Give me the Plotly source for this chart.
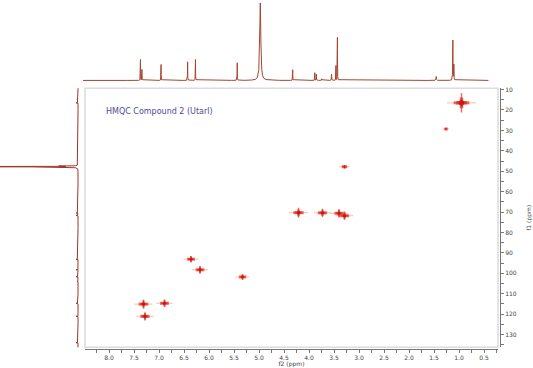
import numpy as np
import plotly.graph_objects as go

# ---------------- data ----------------
# 1H projection (top): peak positions (ppm), relative heights, half widths (ppm)
h_ppm = [7.31, 7.28, 6.89, 6.35, 6.19, 5.34, 4.87, 4.21, 3.76, 3.73, 3.62, 3.42, 3.33, 3.30, 1.29, 0.95, 0.93]
h_int = [27, 14, 20.5, 24, 27, 22.7, 101, 13.7, 9.9, 8, 2, 8, 19, 55.5, 5, 51.7, 20]
h_hw = [0.002, 0.002, 0.002, 0.002, 0.002, 0.002, 0.012, 0.002, 0.002, 0.002, 0.003, 0.003, 0.002, 0.002, 0.005, 0.003, 0.003]

# 13C projection (left): peak positions (ppm), heights
c_ppm = [16.5, 47.5, 47.8, 48.1, 70.4, 71.6, 93.1, 98.3, 101.7, 104.0, 114.7, 121.0, 134.0]
c_int = [2, 33, 200, 33, 2, 2, 2, 2, 2, 1, 2, 2, 2]

# HMQC cross peaks: f2 (1H ppm), f1 (13C ppm), relative intensity
xp_h = [0.95, 1.26, 3.29, 4.21, 3.73, 3.40, 3.29, 6.36, 6.18, 5.33, 7.31, 6.89, 7.28]
xp_c = [16.5, 29.3, 47.8, 70.3, 70.4, 70.6, 71.8, 93.1, 98.3, 101.8, 115.1, 114.7, 121.1]
xp_i = [1.6, 0.35, 0.55, 1.05, 0.95, 0.95, 0.95, 0.8, 0.9, 0.75, 1.0, 0.9, 0.95]

x_ticks = [8.0, 7.5, 7.0, 6.5, 6.0, 5.5, 5.0, 4.5, 4.0, 3.5, 3.0, 2.5, 2.0, 1.5, 1.0, 0.5]
y_ticks = [10, 20, 30, 40, 50, 60, 70, 80, 90, 100, 110, 120, 130]

title_text = "HMQC Compound 2 (Utarl)"

# ---------------- build projections ----------------
hx = np.union1d(np.linspace(0.22, 8.5, 16000), np.array(h_ppm))
hy = np.zeros_like(hx)
for p, a, w in zip(h_ppm, h_int, h_hw):
    hy += a / (1 + ((hx - p) / w) ** 2)

cy = np.union1d(np.linspace(9.0, 137.0, 9000), np.array(c_ppm))
cx = np.zeros_like(cy)
for p, a in zip(c_ppm, c_int):
    cx += a / (1 + ((cy - p) / 0.04) ** 2)

FONT = "DejaVu Sans"
line_col = "#a3452f"

fig = go.Figure()

# top 1H spectrum
fig.add_trace(go.Scatter(x=hx, y=hy, mode="lines", xaxis="x2", yaxis="y2",
                         line=dict(color=line_col, width=1), hoverinfo="skip"))
# left 13C spectrum
fig.add_trace(go.Scatter(x=cx, y=cy, mode="lines", xaxis="x3", yaxis="y",
                         line=dict(color="#9a3522", width=1), hoverinfo="skip"))

I = np.array(xp_i)
layers = [
    dict(symbol="line-ew", size=13 * I, line=dict(color="#f6a878", width=1)),
    dict(symbol="line-ns", size=6.5 * I ** 1.6, line=dict(color="#e5301f", width=1.5)),
    dict(symbol="line-ew", size=7 * I, line=dict(color="#e5301f", width=3)),
    dict(symbol="cross", size=5.5 * I, color="#e02a1c", line=dict(width=0)),
    dict(symbol="circle", size=3.5 * I, color="#b51010", line=dict(width=0)),
]
for mk in layers:
    fig.add_trace(go.Scatter(x=xp_h, y=xp_c, mode="markers", xaxis="x", yaxis="y",
                             marker=mk, hoverinfo="skip"))

W, H = 533, 368
fig.update_layout(
    width=W, height=H,
    margin=dict(l=0, r=0, t=0, b=0),
    paper_bgcolor="white", plot_bgcolor="white",
    showlegend=False,
    font=dict(family=FONT, size=6, color="#444"),
    xaxis=dict(domain=[85 / W, 498 / W], range=[8.48, 0.22], anchor="free",
               position=(H - 349) / H, showline=True, linecolor="#777", linewidth=1,
               tickvals=x_ticks, ticktext=[f"{v:.1f}" for v in x_ticks],
               ticks="outside", ticklen=3, tickcolor="#777",
               minor=dict(dtick=0.25, tick0=0, ticks="outside", ticklen=3, tickcolor="#777"),
               showgrid=False, zeroline=False,
               title=dict(text="f2 (ppm)", standoff=0, font=dict(size=6, color="#444"))),
    yaxis=dict(domain=[21 / H, 282 / H], range=[136.2, 9.37], anchor="free",
               position=500 / W, side="right", showline=True, linecolor="#777",
               linewidth=1, tickvals=y_ticks, ticks="outside", ticklen=3,
               tickcolor="#777",
               minor=dict(dtick=5, tick0=0, ticks="outside", ticklen=3, tickcolor="#777"),
               showgrid=False, zeroline=False,
               title=dict(text="f1 (ppm)", standoff=12, font=dict(size=6, color="#444"))),
    xaxis2=dict(domain=[83 / W, 488.7 / W], range=[8.48, 0.22], anchor="y2",
                visible=False),
    yaxis2=dict(domain=[(H - 80) / H, 1.0], range=[-2.5, 100], anchor="x2",
                visible=False),
    xaxis3=dict(domain=[0, 80 / W], range=[80, -2], anchor="y", visible=False),
)

# light gray frame of the 2D area
fig.add_shape(type="rect", xref="x domain", yref="y domain", x0=0, x1=1, y0=0, y1=1,
              line=dict(color="#dcdcdc", width=1.5), layer="below")

fig.add_annotation(text=title_text, xref="paper", yref="paper",
                   x=104 / W, y=(H - 109) / H, xanchor="left", yanchor="middle",
                   showarrow=False, font=dict(family=FONT, size=8, color="#4b4b9c"))

fig.write_html("out.html")
